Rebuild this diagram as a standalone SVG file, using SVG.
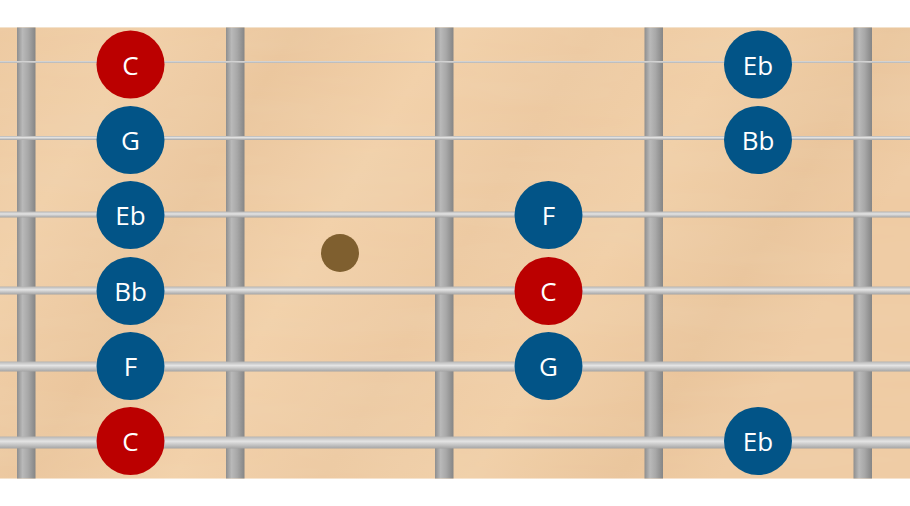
<svg xmlns="http://www.w3.org/2000/svg" width="910" height="506" viewBox="0 0 910 506">
  <defs>
    <linearGradient id="wood" x1="0" y1="0" x2="1" y2="0.3">
      <stop offset="0" stop-color="#EDC9A0"/>
      <stop offset="0.15" stop-color="#F1D0A9"/>
      <stop offset="0.3" stop-color="#EBC69D"/>
      <stop offset="0.45" stop-color="#F2D1AA"/>
      <stop offset="0.6" stop-color="#EDC9A1"/>
      <stop offset="0.75" stop-color="#F1CFA7"/>
      <stop offset="0.9" stop-color="#EAC59C"/>
      <stop offset="1" stop-color="#EFCBA3"/>
    </linearGradient>
    <filter id="grain" x="0" y="0" width="1" height="1">
      <feTurbulence type="fractalNoise" baseFrequency="0.004 0.03" numOctaves="3" seed="4" result="n"/>
      <feColorMatrix type="matrix" values="0 0 0 0 0.85  0 0 0 0 0.68  0 0 0 0 0.48  0 0 0 0.4 -0.1" in="n"/>
    </filter>
    <linearGradient id="fret" x1="0" y1="0" x2="1" y2="0">
      <stop offset="0" stop-color="#8E8E8E"/>
      <stop offset="0.3" stop-color="#B9B9B9"/>
      <stop offset="0.6" stop-color="#A8A8A8"/>
      <stop offset="1" stop-color="#858585"/>
    </linearGradient>
    <linearGradient id="str" x1="0" y1="0" x2="0" y2="1">
      <stop offset="0" stop-color="#B4B4B4"/>
      <stop offset="0.4" stop-color="#E4E4E4"/>
      <stop offset="1" stop-color="#A4A4A4"/>
    </linearGradient>
    <style>
      .fret { fill: url(#fret); }
      .str { fill: url(#str); }
      .red { fill: #BB0000; }
      .blue { fill: #025487; }
      .lbl { fill: #FFFFFF; font-family: "Open Sans", "Noto Sans", "DejaVu Sans", sans-serif; font-size: 26px; text-anchor: middle; dominant-baseline: central; }
    </style>
  </defs>
  <rect x="0" y="0" width="910" height="506" fill="#FFFFFF"/>
  <g id="fretboard">
    <rect x="0" y="27.5" width="910" height="451" fill="url(#wood)"/>
    <rect x="0" y="27.5" width="910" height="451" filter="url(#grain)"/>
    <rect x="0" y="27" width="910" height="1" fill="#F3E2CC"/>
  </g>
  <g id="frets">
    <rect class="fret" x="17" y="27.5" width="18.5" height="451"/>
    <rect class="fret" x="226" y="27.5" width="18.5" height="451"/>
    <rect class="fret" x="435" y="27.5" width="18.5" height="451"/>
    <rect class="fret" x="644.5" y="27.5" width="18.5" height="451"/>
    <rect class="fret" x="853.5" y="27.5" width="18.5" height="451"/>
  </g>
  <g id="inlay">
    <circle cx="340" cy="253" r="19" fill="#7F5F2F"/>
  </g>
  <g id="strings">
    <rect class="str" x="0" y="61" width="910" height="2"/>
    <rect class="str" x="0" y="136" width="910" height="4"/>
    <rect class="str" x="0" y="211.5" width="910" height="6"/>
    <rect class="str" x="0" y="286.5" width="910" height="8"/>
    <rect class="str" x="0" y="361.5" width="910" height="10"/>
    <rect class="str" x="0" y="436.5" width="910" height="12"/>
  </g>
  <g id="n1"><circle class="red" cx="130.5" cy="64.5" r="34"/><text class="lbl" x="130.5" y="64.5">C</text></g>
  <g id="n2"><circle class="blue" cx="130.5" cy="140" r="34"/><text class="lbl" x="130.5" y="140">G</text></g>
  <g id="n3"><circle class="blue" cx="130.5" cy="215" r="34"/><text class="lbl" x="130.5" y="215">Eb</text></g>
  <g id="n4"><circle class="blue" cx="130.5" cy="291" r="34"/><text class="lbl" x="130.5" y="291">Bb</text></g>
  <g id="n5"><circle class="blue" cx="130.5" cy="366" r="34"/><text class="lbl" x="130.5" y="366">F</text></g>
  <g id="n6"><circle class="red" cx="130.5" cy="441" r="34"/><text class="lbl" x="130.5" y="441">C</text></g>
  <g id="n7"><circle class="blue" cx="548.5" cy="215" r="34"/><text class="lbl" x="548.5" y="215">F</text></g>
  <g id="n8"><circle class="red" cx="548.5" cy="291" r="34"/><text class="lbl" x="548.5" y="291">C</text></g>
  <g id="n9"><circle class="blue" cx="548.5" cy="366" r="34"/><text class="lbl" x="548.5" y="366">G</text></g>
  <g id="n10"><circle class="blue" cx="758" cy="64.5" r="34"/><text class="lbl" x="758" y="64.5">Eb</text></g>
  <g id="n11"><circle class="blue" cx="758" cy="140" r="34"/><text class="lbl" x="758" y="140">Bb</text></g>
  <g id="n12"><circle class="blue" cx="758" cy="441" r="34"/><text class="lbl" x="758" y="441">Eb</text></g>
</svg>
